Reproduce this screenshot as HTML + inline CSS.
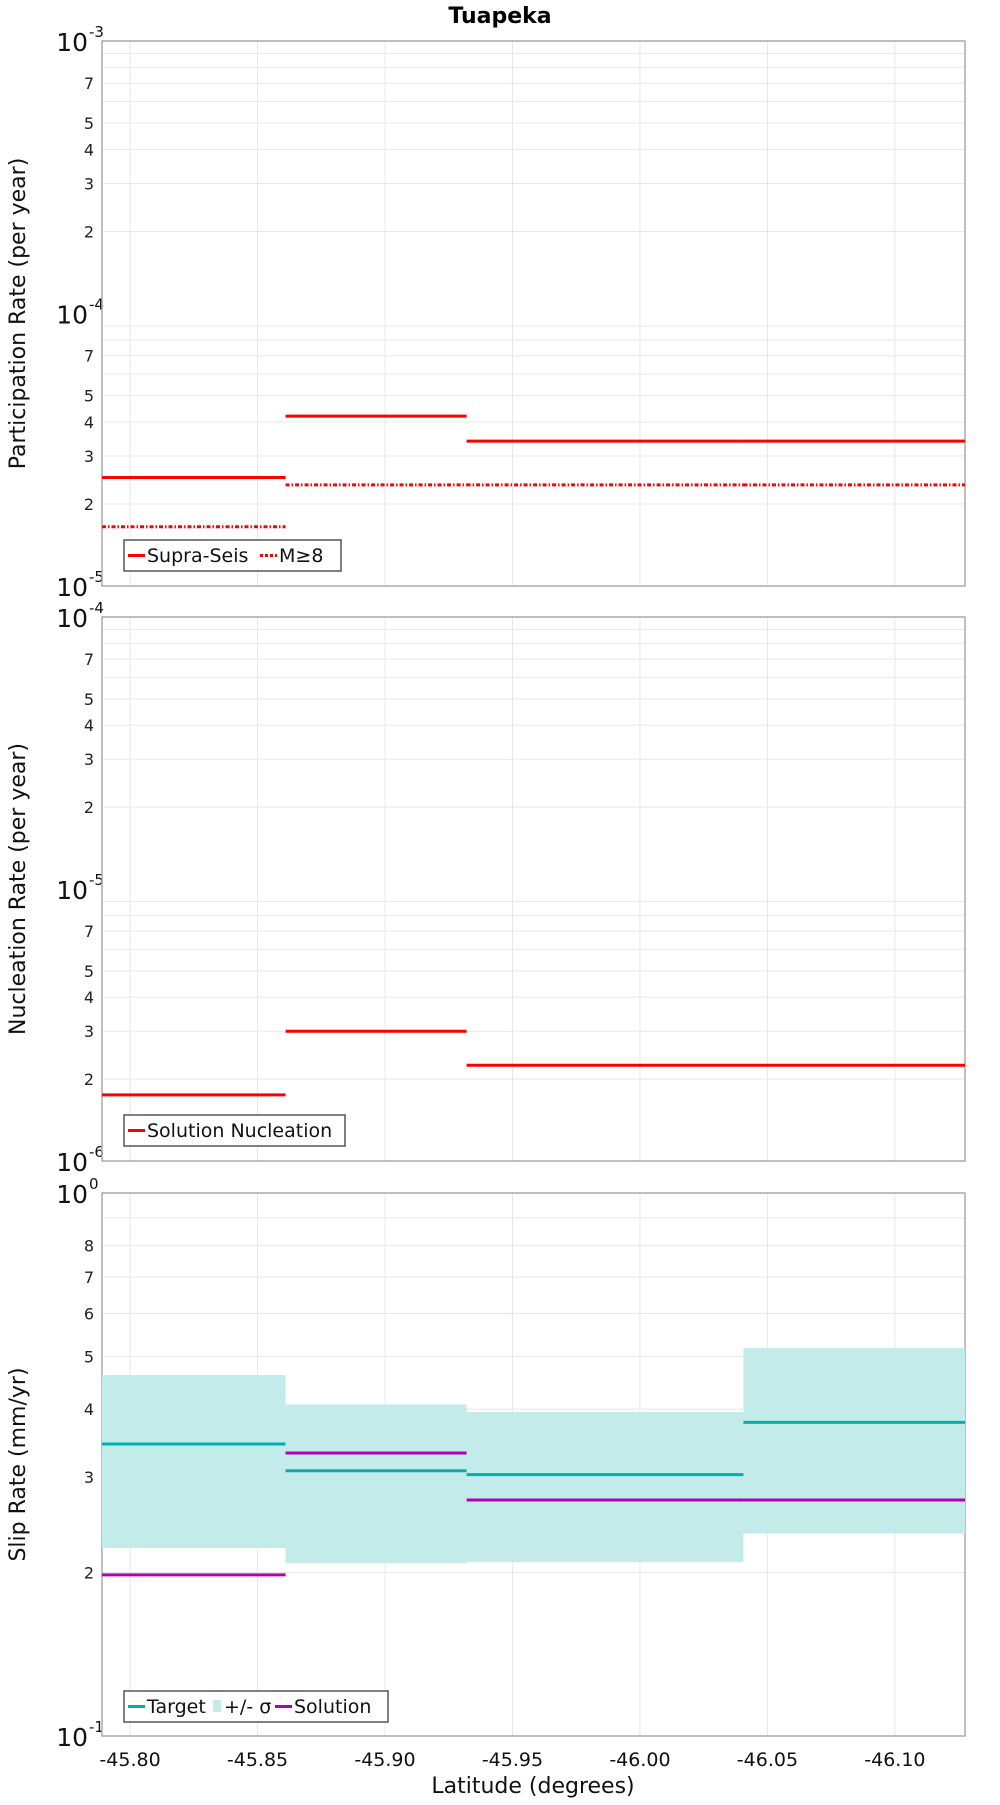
<!DOCTYPE html>
<html><head><meta charset="utf-8"><style>
body{margin:0;background:#fff;}
svg text{font-family:"DejaVu Sans","Liberation Sans",sans-serif;}
</style></head><body>
<svg id="chart" width="1000" height="1800" xmlns="http://www.w3.org/2000/svg">
<text x="500" y="23" text-anchor="middle" font-size="22" font-weight="bold">Tuapeka</text>
</svg>
<script>
const xTicks = [-45.80, -45.85, -45.90, -45.95, -46.00, -46.05, -46.10];
const segBounds = [-45.789, -45.861, -45.932, -46.0406, -46.1275];
const supraSeis = [2.5e-5, 4.2e-5, 3.4e-5, 3.4e-5];
const m8Rate = [1.65e-5, 2.35e-5, 2.35e-5, 2.35e-5];
const nucleation = [1.75e-6, 3.0e-6, 2.25e-6, 2.25e-6];
const targetSlip = [3.45, 3.08, 3.03, 3.78];
const sigmaUpper = [4.62, 4.08, 3.95, 5.18];
const sigmaLower = [2.22, 2.08, 2.09, 2.36];
const solutionSlip = [1.98, 3.32, 2.72, 2.72];

const NS = "http://www.w3.org/2000/svg";
const svg = document.getElementById('chart');
const L = 102, R = 965;
const xMin = -45.789, xMax = -46.1275;
function xs(v){ return L + (v - xMin) / (xMax - xMin) * (R - L); }
function mk(tag, attrs, parent){
  const e = document.createElementNS(NS, tag);
  for (const k in attrs) e.setAttribute(k, attrs[k]);
  (parent || svg).appendChild(e);
  return e;
}
function panel(name, top, bot, lo, hi, expLo, yTitle){
  const g = mk('g', {});
  
  
  const ys = v => bot - (Math.log10(v) - Math.log10(lo)) / (Math.log10(hi) - Math.log10(lo)) * (bot - top);
  // grid
  const decades = Math.round(Math.log10(hi / lo));
  for (let d = 0; d < decades; d++) {
    const base = lo * Math.pow(10, d);
    for (let m = 1; m <= 9; m++) {
      const v = base * m; const y = ys(v);
      if (m > 1) {
        const gl = mk('line', {x1:L, x2:R, y1:y, y2:y, stroke:'#e8e8e8', 'stroke-width':1}, g);
        
        
      }
      if (m > 1 && m !== 6 && m !== 8 && m !== 9 || (decades === 1 && m >= 2 && m <= 8)) {
        const t = mk('text', {x:94, y:y+6, 'text-anchor':'end', 'font-size':16, fill:'#222'}, g);
        
        
        t.textContent = m;
      }
    }
  }
  for (let d = 0; d <= decades; d++) {
    const y = ys(lo * Math.pow(10, d));
    const t = mk('text', {x:88, y:y+10, 'text-anchor':'end', 'font-size':25, fill:'#111'}, g);
    
    
    t.textContent = '10';
    const s = mk('text', {x:89, y:y-4, 'text-anchor':'start', 'font-size':15, fill:'#111'}, g);
    
    
    s.textContent = String(expLo + d);
  }
  xTicks.forEach(v => {
    const vl = mk('line', {x1:xs(v), x2:xs(v), y1:top, y2:bot, stroke:'#e8e8e8', 'stroke-width':1}, g);
    
    
  });
  const fr = mk('rect', {x:L, y:top, width:R-L, height:bot-top, fill:'none', stroke:'#aaa', 'stroke-width':1.5}, g);
  
  
  const yt = mk('text', {x:0, y:0, transform:`translate(25,${(top+bot)/2}) rotate(-90)`, 'text-anchor':'middle', 'font-size':22, fill:'#111'}, g);
  
  
  yt.textContent = yTitle;
  return {g, ys};
}
function steps(p, vals, color, dash, name){
  vals.forEach((v, i) => {
    const y = p.ys(v);
    const a = {x1:xs(segBounds[i]), x2:xs(segBounds[i+1]), y1:y, y2:y, stroke:color, 'stroke-width':3};
    if (dash) a['stroke-dasharray'] = dash;
    const l = mk('line', a, p.g);
    
    
  });
}
function legend(p, x, y, w, items){
  const lg = mk('g', {}, p.g);
  
  
  mk('rect', {x:x, y:y, width:w, height:31, fill:'#fff', stroke:'#555', 'stroke-width':1.5}, lg);
  let cx = x + 4;
  items.forEach(it => {
    if (it.box) {
      mk('rect', {x:cx, y:y+9, width:8, height:12, fill:it.color}, lg);
      cx += 11;
    } else {
      const a = {x1:cx, x2:cx+17, y1:y+15.5, y2:y+15.5, stroke:it.color, 'stroke-width':3};
      if (it.dash) a['stroke-dasharray'] = it.dash;
      mk('line', a, lg);
      cx += 19;
    }
    const t = mk('text', {x:cx, y:y+22, 'font-size':19, fill:'#111'}, lg);
    
    
    t.textContent = it.label;
    cx += it.w;
  });
}
// Panel 1
const p1 = panel('participation-panel', 41, 586, 1e-5, 1e-3, -5, 'Participation Rate (per year)');
steps(p1, supraSeis, '#ff0000', null, 'supra-seis-line');
steps(p1, m8Rate, '#ff0000', '4,2,1.5,2', 'm8-line');
legend(p1, 124, 540, 217, [{color:'#f00', label:'Supra-Seis', w:113},{color:'#f00', dash:'3,2', label:'M≥8', w:50}]);
// Panel 2
const p2 = panel('nucleation-panel', 617, 1161, 1e-6, 1e-4, -6, 'Nucleation Rate (per year)');
steps(p2, nucleation, '#ff0000', null, 'nucleation-line');
legend(p2, 124, 1115, 221, [{color:'#f00', label:'Solution Nucleation', w:190}]);
// Panel 3
const p3 = panel('slip-rate-panel', 1193, 1736, 1, 10, -1, 'Slip Rate (mm/yr)');
sigmaUpper.forEach((u, i) => {
  const r = mk('rect', {x:xs(segBounds[i]), y:p3.ys(u), width:xs(segBounds[i+1])-xs(segBounds[i]), height:p3.ys(sigmaLower[i])-p3.ys(u), fill:'#c2ebea'}, p3.g);
  
  
});
steps(p3, targetSlip, '#00b0b0', null, 'target-line');
steps(p3, solutionSlip, '#b000b8', null, 'solution-line');
legend(p3, 124, 1691, 264, [{color:'#00b0b0', label:'Target', w:66},{color:'#c2ebea', box:true, label:'+/- σ', w:51},{color:'#b000b8', label:'Solution', w:80}]);
// x axis
xTicks.forEach(v => {
  const t = mk('text', {x:xs(v), y:1766, 'text-anchor':'middle', 'font-size':19, fill:'#111'});
  
  
  t.textContent = v.toFixed(2);
});
const xt = mk('text', {x:533, y:1793, 'text-anchor':'middle', 'font-size':22, fill:'#111'});


xt.textContent = 'Latitude (degrees)';
</script>
</body></html>
